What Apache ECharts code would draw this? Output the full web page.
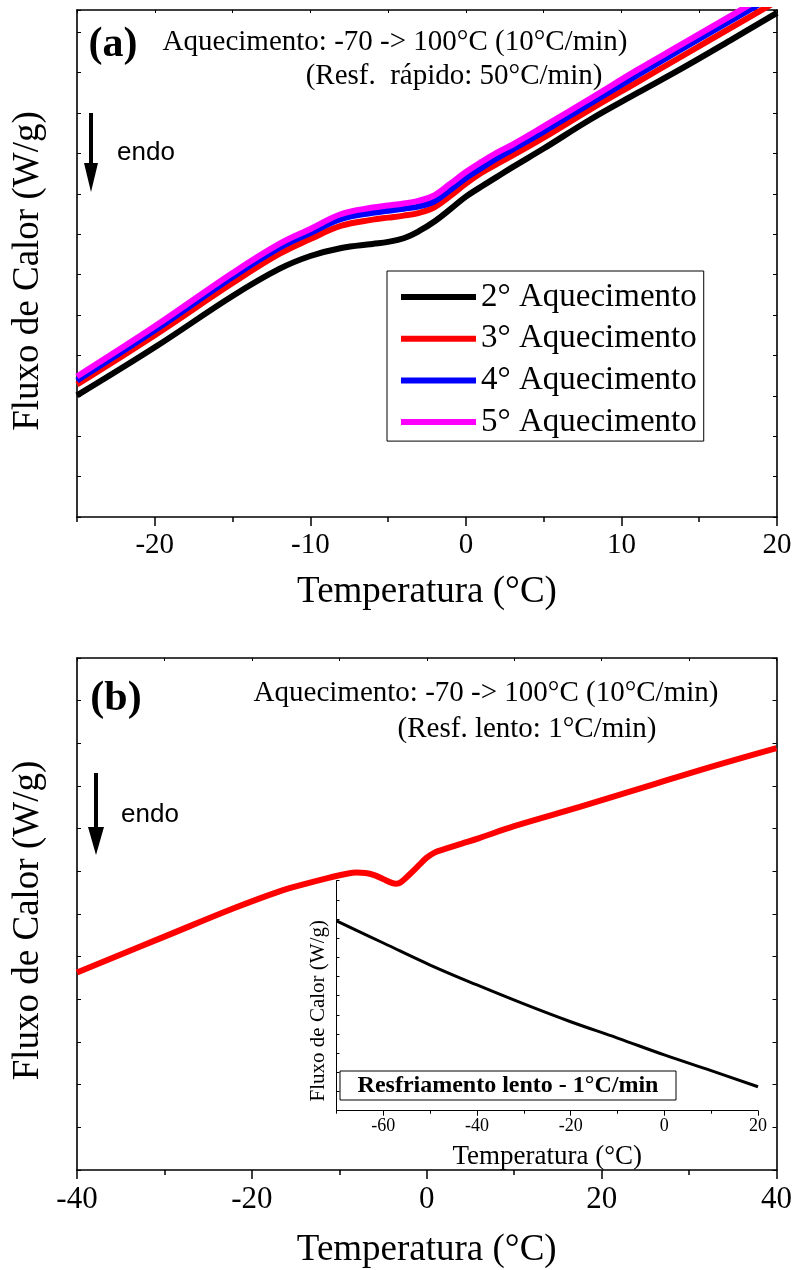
<!DOCTYPE html>
<html>
<head>
<meta charset="utf-8">
<script src="https://cdn.jsdelivr.net/npm/echarts@6/dist/echarts.min.js"></script>
<style>
html,body{margin:0;padding:0;background:#fff;}
#c{width:795px;height:1270px;}
</style>
</head>
<body>
<div id="c"></div>
<script>
// ---------- Panel (a) data ----------
const tempA = [-25,-20,-15,-12,-10,-8,-6,-5,-4,-3,-2,-1,0,1,2,3,5,8,11,14,17,20];
const heat2 = [3.01,4.20,5.47,6.14,6.46,6.66,6.76,6.81,6.90,7.08,7.32,7.62,7.93,8.18,8.42,8.66,9.12,9.84,10.49,11.13,11.80,12.48];
const heat3 = [3.28,4.50,5.79,6.51,6.88,7.21,7.36,7.41,7.46,7.53,7.67,7.95,8.25,8.52,8.74,8.95,9.39,10.09,10.76,11.43,12.10,12.77];
const heat4 = [3.38,4.62,5.94,6.66,7.03,7.38,7.53,7.58,7.63,7.69,7.82,8.10,8.39,8.64,8.88,9.10,9.54,10.24,10.93,11.61,12.28,12.95];
const heat5 = [3.48,4.72,6.04,6.76,7.13,7.50,7.66,7.71,7.76,7.83,7.97,8.25,8.54,8.79,9.02,9.22,9.67,10.36,11.06,11.73,12.40,13.07];
const namesA = ['2° Aquecimento','3° Aquecimento','4° Aquecimento','5° Aquecimento'];
const colorsA = ['#000000','#ff0000','#0000ff','#ff00ff'];
const xLabelsA = [-20,-10,0,10,20];
const xMinorA = [-25,-15,-5,5,15];

// ---------- Panel (b) data ----------
const tempB = [-40,-30,-22,-17,-14,-11,-9,-8,-7,-6,-5,-4,-3.5,-3,-2,-1,0,1,2,4,6,10,17.5,25,32.5,40];
const heatB = [4.63,5.47,6.14,6.52,6.70,6.86,6.95,6.97,6.96,6.91,6.82,6.73,6.71,6.74,6.92,7.12,7.32,7.45,7.52,7.65,7.78,8.06,8.51,8.98,9.45,9.89];

// ---------- Inset data ----------
const tempInset = [-70,-60,-50,-40,-30,-20,-10,0,10,20];
const heatInset = [9.90,8.75,7.60,6.56,5.57,4.64,3.79,2.91,2.09,1.25];
const xLabelsInset = [-60,-40,-20,0,20];
const xMinorInset = [-70,-50,-30,-10,10];

const zip = (xs, ys) => xs.map((x, i) => [x, ys[i]]);
const SERIF = '"Liberation Serif","Times New Roman",serif';
const SANS = '"Liberation Sans",Arial,sans-serif';
const AX = {onZero:false, lineStyle:{color:'#000',width:1.6}};
const AXI = {onZero:false, lineStyle:{color:'#000',width:1}};

const chart = echarts.init(document.getElementById('c'), null, {renderer:'canvas'});

const series = [];
[heat2, heat3, heat4, heat5].forEach((h, i) => {
  series.push({
    name: namesA[i], type:'line', xAxisIndex:0, yAxisIndex:0,
    data: zip(tempA, h), smooth:0.4, symbol:'none', showSymbol:false,
    lineStyle:{color:colorsA[i], width:6}, itemStyle:{color:colorsA[i]}, clip:true
  });
});
series.push({
  name:'b', type:'line', xAxisIndex:3, yAxisIndex:2, data: zip(tempB, heatB),
  smooth:0.4, symbol:'none', lineStyle:{color:'#ff0000', width:6}, clip:true
});
series.push({
  name:'inset', type:'line', xAxisIndex:5, yAxisIndex:4, data: zip(tempInset, heatInset),
  smooth:0.4, symbol:'none', lineStyle:{color:'#000', width:3}, clip:true
});

const option = {
  animation:false,
  backgroundColor:'#fff',
  grid:[
    {left:77, top:10, width:700, height:507},
    {left:77, top:658, width:700, height:513},
    {left:336.5, top:880.7, width:421.5, height:230}
  ],
  legend:{
    data:namesA, orient:'vertical', left:387, top:271,
    borderColor:'#000', borderWidth:1, padding:[9,7,2,14],
    icon:'rect', itemWidth:75, itemHeight:6, itemGap:7.7,
    textStyle:{fontFamily:SERIF, fontSize:33, color:'#000', lineHeight:34},
    backgroundColor:'#fff'
  },
  xAxis:[
    {gridIndex:0, type:'value', min:-25, max:20, position:'bottom',
     axisLine:AX, splitLine:{show:false},
     axisTick:{show:true, length:9, customValues:xLabelsA, lineStyle:{color:'#000',width:1.5}},
     axisLabel:{customValues:xLabelsA, fontFamily:SERIF, fontSize:29, color:'#000', margin:14},
     name:'Temperatura (°C)', nameLocation:'middle', nameGap:57,
     nameTextStyle:{fontFamily:SERIF, fontSize:37, color:'#000'}},
    {gridIndex:0, type:'value', min:-25, max:20, position:'bottom',
     axisLine:{show:false, onZero:false}, splitLine:{show:false},
     axisTick:{show:true, length:5, customValues:xMinorA, lineStyle:{color:'#000',width:1.5}},
     axisLabel:{show:false}},
    {gridIndex:0, type:'value', min:-25, max:20, interval:5, position:'top',
     axisLine:AX, splitLine:{show:false},
     axisTick:{show:true, inside:true, length:3, lineStyle:{color:'#000'}},
     axisLabel:{show:false}},
    {gridIndex:1, type:'value', min:-40, max:40, interval:20, position:'bottom',
     axisLine:AX, splitLine:{show:false},
     axisTick:{show:true, length:9, lineStyle:{color:'#000',width:1.5}},
     minorTick:{show:true, splitNumber:2, length:5, lineStyle:{color:'#000',width:1.5}},
     axisLabel:{fontFamily:SERIF, fontSize:31, color:'#000', margin:14},
     name:'Temperatura (°C)', nameLocation:'middle', nameGap:62,
     nameTextStyle:{fontFamily:SERIF, fontSize:37, color:'#000'}},
    {gridIndex:1, type:'value', min:-40, max:40, interval:10, position:'top',
     axisLine:AX, splitLine:{show:false},
     axisTick:{show:true, inside:true, length:3, lineStyle:{color:'#000'}},
     axisLabel:{show:false}},
    {gridIndex:2, type:'value', min:-70, max:20, position:'bottom',
     axisLine:AXI, splitLine:{show:false},
     axisTick:{show:true, length:5, customValues:xLabelsInset, lineStyle:{color:'#000'}},
     axisLabel:{customValues:xLabelsInset, fontFamily:SERIF, fontSize:18, color:'#000', margin:7},
     name:'Temperatura (°C)', nameLocation:'middle', nameGap:33,
     nameTextStyle:{fontFamily:SERIF, fontSize:27, color:'#000'}},
    {gridIndex:2, type:'value', min:-70, max:20, position:'bottom',
     axisLine:{show:false, onZero:false}, splitLine:{show:false},
     axisTick:{show:true, length:3, customValues:xMinorInset, lineStyle:{color:'#000'}},
     axisLabel:{show:false}}
  ],
  yAxis:[
    {gridIndex:0, type:'value', min:0, max:12.55, interval:1, position:'left',
     axisLine:AX, splitLine:{show:false},
     axisTick:{show:true, inside:true, length:4, lineStyle:{color:'#000'}},
     axisLabel:{show:false},
     name:'Fluxo de Calor (W/g)', nameLocation:'middle', nameGap:30,
     nameTextStyle:{fontFamily:SERIF, fontSize:37, color:'#000', padding:[0,15,0,0]}},
    {gridIndex:0, type:'value', min:0, max:12.55, interval:1, position:'right',
     axisLine:AX, splitLine:{show:false},
     axisTick:{show:true, inside:true, length:4, lineStyle:{color:'#000'}},
     axisLabel:{show:false}},
    {gridIndex:1, type:'value', min:0, max:12, interval:1, position:'left',
     axisLine:AX, splitLine:{show:false},
     axisTick:{show:true, inside:true, length:4, lineStyle:{color:'#000'}},
     axisLabel:{show:false},
     name:'Fluxo de Calor (W/g)', nameLocation:'middle', nameGap:30,
     nameTextStyle:{fontFamily:SERIF, fontSize:37, color:'#000', padding:[0,13,0,0]}},
    {gridIndex:1, type:'value', min:0, max:12, interval:1, position:'right',
     axisLine:AX, splitLine:{show:false},
     axisTick:{show:true, inside:true, length:4, lineStyle:{color:'#000'}},
     axisLabel:{show:false}},
    {gridIndex:2, type:'value', min:0, max:12, interval:1, position:'left',
     axisLine:AXI, splitLine:{show:false},
     axisTick:{show:true, inside:true, length:3, lineStyle:{color:'#000'}},
     axisLabel:{show:false},
     name:'Fluxo de Calor (W/g)', nameLocation:'middle', nameGap:8,
     nameTextStyle:{fontFamily:SERIF, fontSize:21, color:'#000', padding:[0,30,0,0]}}
  ],
  series:series,
  graphic:[
    {type:'text', x:113, y:45, style:{text:'(a)', font:'bold 42px '+SERIF, fill:'#000', textAlign:'center', textVerticalAlign:'middle'}},
    {type:'text', x:395, y:42, style:{text:'Aquecimento: -70 -> 100°C (10°C/min)', font:'29px '+SERIF, fill:'#000', textAlign:'center', textVerticalAlign:'middle'}},
    {type:'text', x:454, y:76, style:{text:'(Resf.  rápido: 50°C/min)', font:'29px '+SERIF, fill:'#000', textAlign:'center', textVerticalAlign:'middle'}},
    {type:'line', shape:{x1:91, y1:113, x2:91, y2:170}, style:{stroke:'#000', lineWidth:4}},
    {type:'polygon', shape:{points:[[84,163],[98,163],[91,192]]}, style:{fill:'#000'}},
    {type:'text', x:117, y:153, style:{text:'endo', font:'26px '+SANS, fill:'#000', textAlign:'left', textVerticalAlign:'middle'}},

    {type:'text', x:116, y:699, style:{text:'(b)', font:'bold 42px '+SERIF, fill:'#000', textAlign:'center', textVerticalAlign:'middle'}},
    {type:'text', x:486, y:693, style:{text:'Aquecimento: -70 -> 100°C (10°C/min)', font:'29px '+SERIF, fill:'#000', textAlign:'center', textVerticalAlign:'middle'}},
    {type:'text', x:527, y:729, style:{text:'(Resf. lento: 1°C/min)', font:'29px '+SERIF, fill:'#000', textAlign:'center', textVerticalAlign:'middle'}},
    {type:'line', shape:{x1:96, y1:773, x2:96, y2:835}, style:{stroke:'#000', lineWidth:4}},
    {type:'polygon', shape:{points:[[88,827],[104,827],[96,855]]}, style:{fill:'#000'}},
    {type:'text', x:121, y:815, style:{text:'endo', font:'26px '+SANS, fill:'#000', textAlign:'left', textVerticalAlign:'middle'}},

    {type:'rect', shape:{x:340, y:1071, width:336, height:29}, style:{fill:'#fff', stroke:'#000', lineWidth:1}},
    {type:'text', x:508, y:1086, style:{text:'Resfriamento lento - 1°C/min', font:'bold 24px '+SERIF, fill:'#000', textAlign:'center', textVerticalAlign:'middle'}}
  ]
};
chart.setOption(option);
</script>
</body>
</html>
